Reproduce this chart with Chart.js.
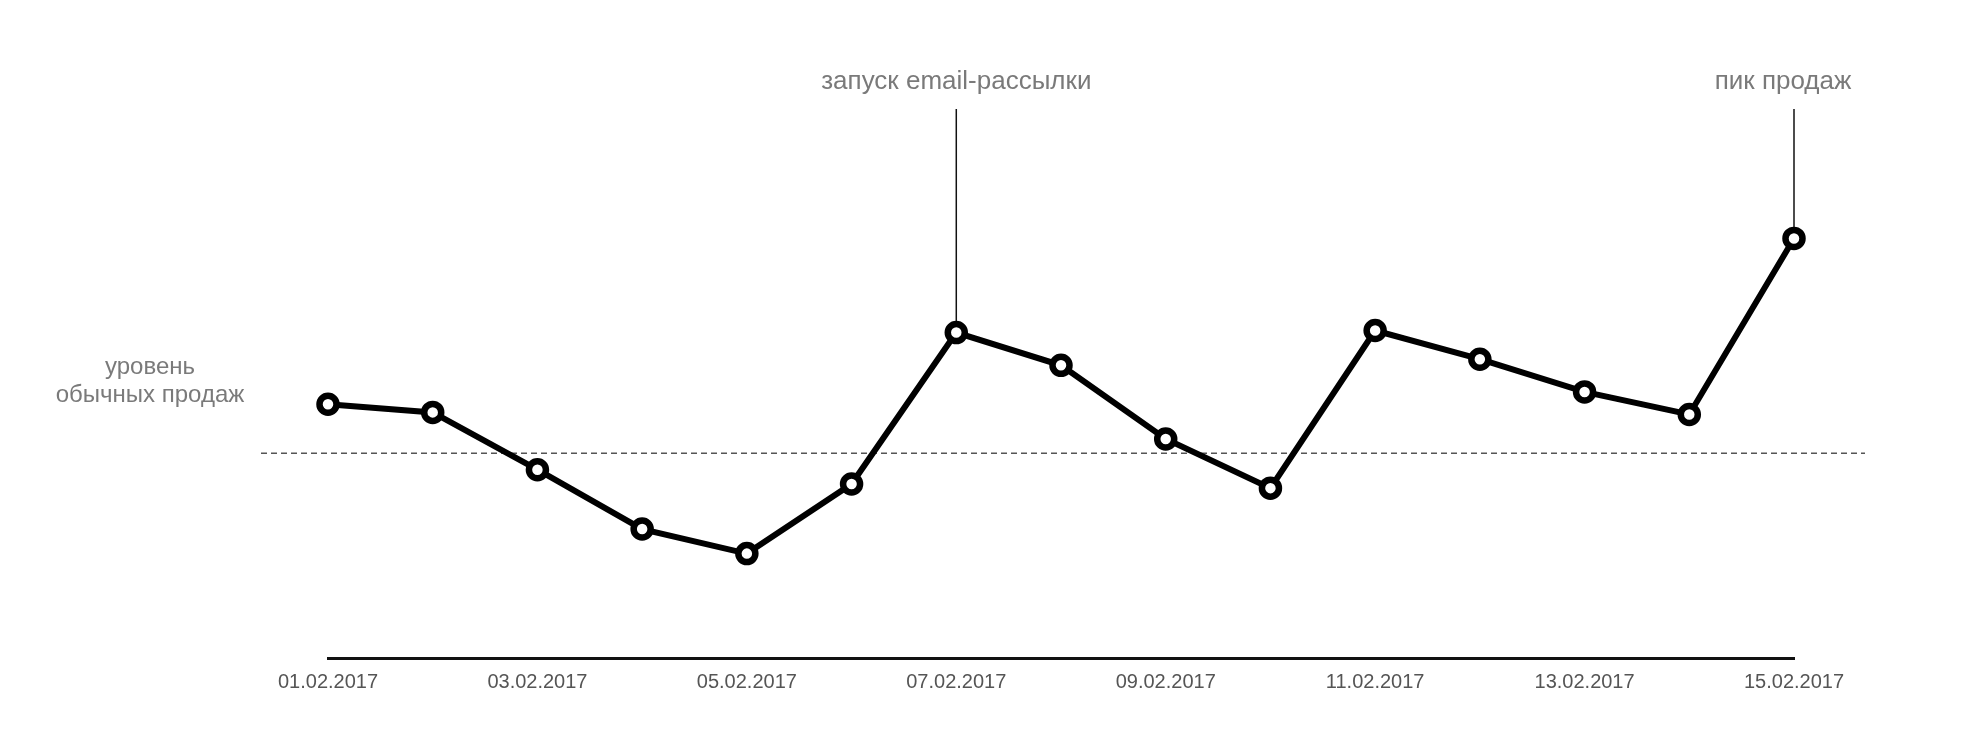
<!DOCTYPE html>
<html>
<head>
<meta charset="utf-8">
<script src="https://cdn.jsdelivr.net/npm/chart.js@4.4.1/dist/chart.umd.min.js"></script>
<style>
html,body{margin:0;padding:0;background:#fff;}
#wrap{width:1966px;height:752px;position:relative;}
</style>
</head>
<body>
<div id="wrap"><canvas id="c" width="1966" height="752"></canvas></div>
<script>
const dates = ["01.02.2017","02.02.2017","03.02.2017","04.02.2017","05.02.2017","06.02.2017","07.02.2017","08.02.2017","09.02.2017","10.02.2017","11.02.2017","12.02.2017","13.02.2017","14.02.2017","15.02.2017"];
const sales = [124, 120, 92, 63, 51, 85, 159, 143, 107, 83, 160, 146, 130, 119, 205];
const normalLevel = 100;
const normalLabel = ["уровень", "обычных продаж"];
const annotationIndex = [6, 14];
const annotationText = ["запуск email-рассылки", "пик продаж"];
const annotationShift = [0, -11];

const FONT = '"Liberation Sans", Arial, sans-serif';

const overlay = {
  id: 'overlay',
  beforeDatasetsDraw(chart) {
    const ctx = chart.ctx, a = chart.chartArea;
    const xs = chart.scales.x, ys = chart.scales.y;
    const yb = ys.getPixelForValue(normalLevel);
    ctx.save();
    ctx.strokeStyle = '#555';
    ctx.lineWidth = 1.5;
    ctx.setLineDash([6, 4]);
    ctx.beginPath();
    ctx.moveTo(a.left - 67, yb);
    ctx.lineTo(a.right + 71, yb);
    ctx.stroke();
    ctx.setLineDash([]);
    ctx.strokeStyle = '#111';
    ctx.lineWidth = 1.5;
    annotationIndex.forEach((idx) => {
      const x = xs.getPixelForValue(idx);
      const y = ys.getPixelForValue(sales[idx]);
      ctx.beginPath();
      ctx.moveTo(x, 109);
      ctx.lineTo(x, y);
      ctx.stroke();
    });
    ctx.restore();
  },
  afterDraw(chart) {
    const ctx = chart.ctx, a = chart.chartArea;
    const xs = chart.scales.x, ys = chart.scales.y;
    const yb = ys.getPixelForValue(normalLevel);
    ctx.save();
    ctx.fillStyle = '#7a7a7a';
    ctx.textBaseline = 'alphabetic';
    ctx.textAlign = 'center';
    ctx.font = '26px ' + FONT;
    annotationIndex.forEach((idx, i) => {
      const x = xs.getPixelForValue(idx) + annotationShift[i];
      ctx.fillText(annotationText[i], x, 89);
    });
    ctx.font = '24px ' + FONT;
    ctx.fillText(normalLabel[0], a.left - 178, yb - 79);
    ctx.fillText(normalLabel[1], a.left - 178, yb - 51);
    ctx.restore();
  }
};

new Chart(document.getElementById('c'), {
  type: 'line',
  data: {
    labels: dates,
    datasets: [{
      data: sales,
      borderColor: '#000',
      borderWidth: 6,
      pointRadius: 8.5,
      pointBorderWidth: 6.5,
      pointBackgroundColor: '#fff',
      pointBorderColor: '#000',
      tension: 0,
      fill: false
    }]
  },
  options: {
    responsive: false,
    animation: false,
    devicePixelRatio: 1,
    layout: { padding: { left: 328, right: 172, top: 44, bottom: 46 } },
    plugins: { legend: { display: false }, tooltip: { enabled: false } },
    scales: {
      x: {
        offset: false,
        grid: { display: false, drawTicks: false },
        border: { display: true, color: '#111', width: 3 },
        ticks: {
          autoSkip: false,
          maxRotation: 0,
          padding: 12,
          color: '#555',
          font: { family: FONT, size: 20 },
          callback: (v, i) => (i % 2 === 0 ? dates[i] : '')
        }
      },
      y: {
        display: false,
        min: 0,
        max: 300
      }
    }
  },
  plugins: [overlay]
});
</script>
</body>
</html>
